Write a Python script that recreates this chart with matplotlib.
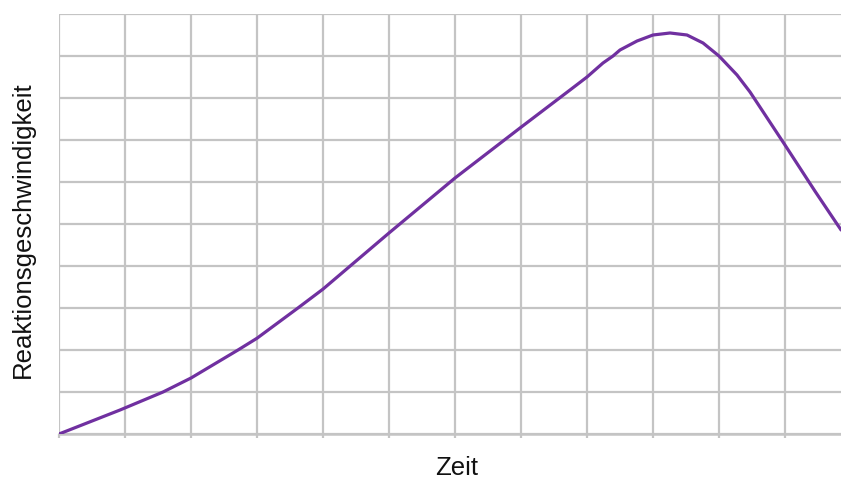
import matplotlib
matplotlib.use("Agg")
import matplotlib.pyplot as plt

plt.rcParams['font.family'] = ['Liberation Sans', 'DejaVu Sans']

# Reaction rate over time (arbitrary grid units)
time = [0.0, 0.924, 1.576, 2.0, 2.712, 3.0, 3.62, 4.0, 5.0, 6.0, 6.985,
        7.742, 8.0, 8.242, 8.394, 8.5, 8.758, 9.0, 9.258, 9.515, 9.758,
        10.0, 10.273, 10.47, 11.0, 11.455, 11.788, 11.85]
rate = [0.0, 0.571, 1.0, 1.333, 2.0, 2.28, 3.0, 3.45, 4.786, 6.095, 7.286,
        8.19, 8.5, 8.833, 9.0, 9.143, 9.357, 9.5, 9.548, 9.5, 9.31,
        9.0, 8.548, 8.143, 6.88, 5.78, 5.0, 4.857]

x_label = "Zeit"
y_label = "Reaktionsgeschwindigkeit"

fig = plt.figure(figsize=(8.41, 4.79), dpi=100)
ax = fig.add_axes([59 / 841, 1 - 434 / 479, 782 / 841, 420 / 479])

ax.plot(time, rate, color="#7030a0", linewidth=2.3, solid_capstyle="round",
        solid_joinstyle="round", zorder=3)

ax.set_xlim(0, 782 / 66)
ax.set_ylim(0, 10)
ax.set_xticks(range(0, 12))
ax.set_yticks(range(0, 11))
ax.set_xticklabels([])
ax.set_yticklabels([])
ax.grid(True, color="#c4c4c4", linewidth=1.6)
ax.set_axisbelow(True)
ax.tick_params(axis="x", direction="out", length=3, width=1.6, color="#c4c4c4")
ax.tick_params(axis="y", length=0)

for side in ("top", "right", "left"):
    ax.spines[side].set_visible(False)
ax.spines["bottom"].set_color("#c4c4c4")
ax.spines["bottom"].set_linewidth(1.8)

ax.set_xlabel(x_label, fontsize=18.5, color="#111111")
ax.xaxis.set_label_coords(0.508, -0.081)
ax.xaxis.label.set_va("center")
ax.set_ylabel(y_label, fontsize=18.5, color="#111111")
ax.yaxis.set_label_coords(-0.046, 0.486)
ax.yaxis.label.set_va("center")

fig.savefig("out.png", dpi=100)
